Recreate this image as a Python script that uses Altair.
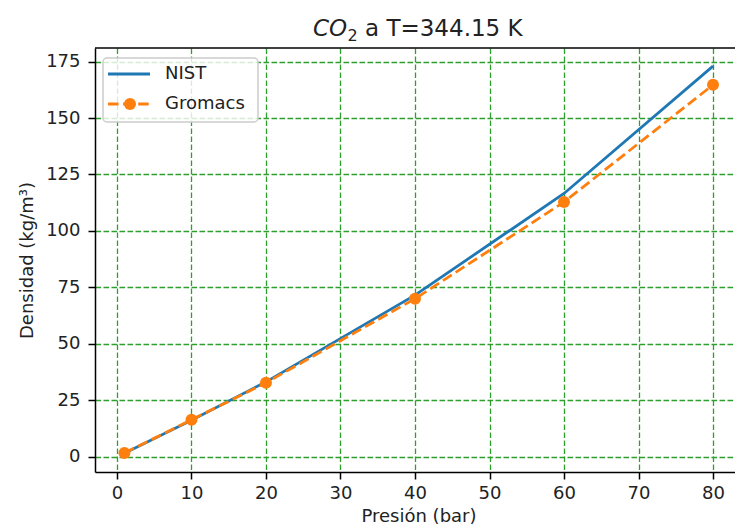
import altair as alt
import pandas as pd

# Density of CO2 at 344.15 K: reference (NIST) vs simulation (Gromacs)
presion = [1, 10, 20, 40, 60, 80]
densidad_nist = [1.6, 16.2, 33.2, 71.6, 116.6, 173.0]
densidad_gromacs = [1.7, 16.4, 32.8, 70.0, 112.8, 164.7]
series = ["NIST", "Gromacs"]
colores = ["#1f77b4", "#ff7f0e"]
x_ticks = [0, 10, 20, 30, 40, 50, 60, 70, 80]
y_ticks = [0, 25, 50, 75, 100, 125, 150, 175]
titulo = ["CO", "2", "a T=344.15 K"]

W, H = 640, 424
FONT = "DejaVu Sans"
TXT = "#222222"
GRID = "#2ca02c"

df = pd.DataFrame({"presion": presion, "NIST": densidad_nist, "Gromacs": densidad_gromacs})

x_scale = alt.Scale(domain=[-2.95, 82.95], nice=False, zero=False)
y_scale = alt.Scale(domain=[-6.7, 181.0], nice=False, zero=False)

axis_common = dict(
    grid=True, gridColor=GRID, gridDash=[5.6, 2.4], gridWidth=1.3, gridOpacity=1,
    domainColor="black", domainWidth=1.5, tickColor="black", tickSize=7, tickWidth=1.5,
    labelFont=FONT, labelFontSize=18, labelColor=TXT, labelFlush=False, labelOverlap=False,
    titleFont=FONT, titleFontSize=18, titleFontWeight="normal", titleColor=TXT,
)

x_enc = alt.X("presion:Q", scale=x_scale,
              axis=alt.Axis(values=x_ticks, title="Presión (bar)", labelPadding=5,
                            titlePadding=5, titleX=323.5, **axis_common))
y_nist = alt.Y("NIST:Q", scale=y_scale,
               axis=alt.Axis(values=y_ticks, title="Densidad (kg/m³)", labelPadding=8,
                             titlePadding=9, **axis_common))
y_grom = alt.Y("Gromacs:Q", scale=y_scale)

base = alt.Chart(df)
nist_line = base.mark_line(color=colores[0], strokeWidth=2.8).encode(x=x_enc, y=y_nist)
grom_line = base.mark_line(color=colores[1], strokeWidth=2.8, strokeDash=[10.5, 4.6]).encode(
    x="presion:Q", y=y_grom)
grom_pts = base.mark_point(color=colores[1], filled=True, size=144, opacity=1).encode(
    x="presion:Q", y=y_grom)

one = pd.DataFrame({"k": [0]})

# top spine
top_spine = alt.Chart(one).mark_rule(color="black", strokeWidth=1.5).encode(
    x=alt.value(0), x2=alt.value(W), y=alt.value(0))

# title with italic chemical formula and subscript
t_co = alt.Chart(one).mark_text(text=titulo[0], font=FONT, fontSize=23, fontStyle="italic",
                                align="left", baseline="alphabetic", color=TXT).encode(
    x=alt.value(218), y=alt.value(-12))
t_sub = alt.Chart(one).mark_text(text=titulo[1], font=FONT, fontSize=16,
                                 align="left", baseline="alphabetic", color=TXT).encode(
    x=alt.value(252.5), y=alt.value(-7))
t_rest = alt.Chart(one).mark_text(text=titulo[2], font=FONT, fontSize=23,
                                  align="left", baseline="alphabetic", color=TXT).encode(
    x=alt.value(270), y=alt.value(-12))

# legend box
leg_box = alt.Chart(one).mark_rect(fill="white", fillOpacity=0.8, stroke="#cccccc",
                                   strokeWidth=1.5, cornerRadius=4).encode(
    x=alt.value(8), x2=alt.value(163), y=alt.value(10), y2=alt.value(74))
leg_nist = alt.Chart(one).mark_rule(color=colores[0], strokeWidth=2.8).encode(
    x=alt.value(13), x2=alt.value(55), y=alt.value(26))
leg_grom = alt.Chart(one).mark_rule(color=colores[1], strokeWidth=2.8, strokeDash=[10.5, 4.6]).encode(
    x=alt.value(13), x2=alt.value(55), y=alt.value(56))
leg_pt = alt.Chart(one).mark_point(color=colores[1], filled=True, size=144, opacity=1).encode(
    x=alt.value(35), y=alt.value(56))
leg_txt1 = alt.Chart(one).mark_text(text=series[0], font=FONT, fontSize=18, align="left",
                                    baseline="middle", color=TXT).encode(
    x=alt.value(70), y=alt.value(26))
leg_txt2 = alt.Chart(one).mark_text(text=series[1], font=FONT, fontSize=18, align="left",
                                    baseline="middle", color=TXT).encode(
    x=alt.value(70), y=alt.value(56))

chart = alt.layer(
    nist_line, grom_line, grom_pts, top_spine, t_co, t_sub, t_rest,
    leg_box, leg_nist, leg_grom, leg_pt, leg_txt1, leg_txt2,
).properties(
    width=W, height=H,
    autosize=alt.AutoSizeParams(type="none"),
    padding={"left": 95, "top": 48, "right": 0, "bottom": 58},
    background="white",
).configure_view(stroke=None)

chart.save("out.html", embed_options={"renderer": "svg", "actions": False})
